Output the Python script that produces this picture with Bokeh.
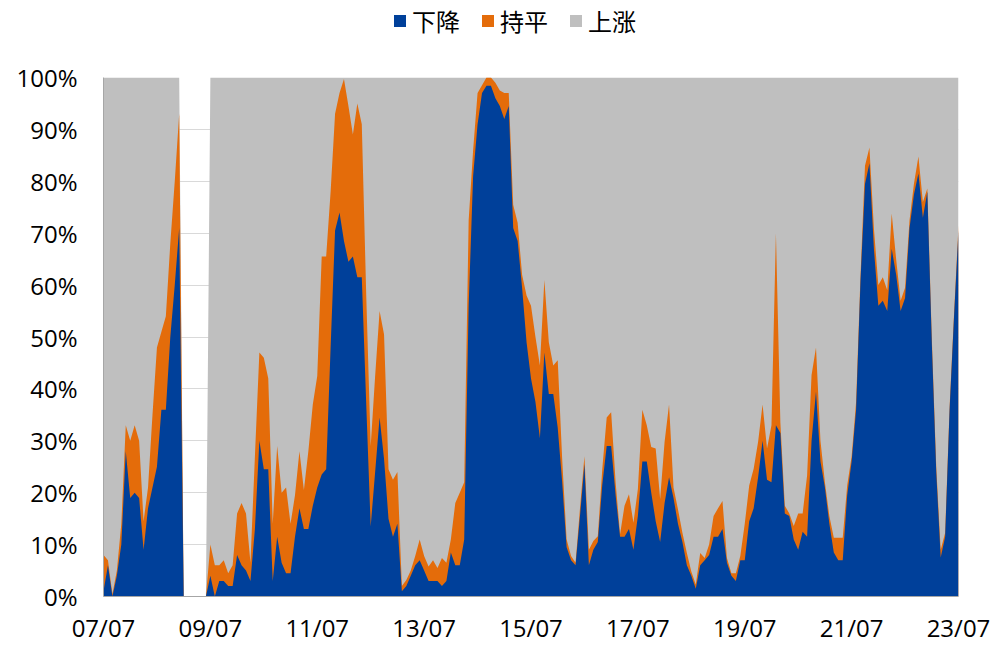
import numpy as np
from bokeh.plotting import figure
from bokeh.layouts import column
from bokeh.models import ColumnDataSource, FixedTicker, Legend, LegendItem, NumeralTickFormatter
from bokeh.embed import file_html
from bokeh.resources import INLINE

# Monthly shares (%) from 2007-07 to 2023-07; None = no data (blank months)
down_pct = [
    1, 6, 0, 4, 10, 28, 19, 20, 19, 9, 17, 21, 25, 36, 36, 50, 60, 71,
    None, None, None, None, None, None,
    4, 0, 3, 3, 2, 2, 8, 6,
    5, 3, 13, 30, 24.5, 24.5, 3, 11.5,
    6.5, 4.5, 4.5, 11.5, 17, 13, 13, 17.5,
    21, 23.5, 24.5, 48, 70.5, 74, 68.5, 64.5,
    65.5, 61.5, 61.5, 37, 13.5, 24, 34.5, 26.5,
    15, 11.5, 14, 1, 2, 4, 6, 7,
    5, 3, 3, 3, 2, 3, 8.5, 6,
    6, 11, 56, 81, 91, 97, 98.4, 98.4,
    96, 94.5, 92, 94.5, 71, 68.5, 59.5, 49,
    42, 37.5, 30.5, 47, 39, 39, 32.5, 22,
    9.5, 7, 6, 15.5, 25.5, 6, 9, 10.5,
    21.5, 29, 29, 19.5, 11.5, 11.5, 13, 9,
    15.5, 26, 26, 20, 14.5, 10.5, 18, 23,
    19, 14, 10.5, 6, 4, 1.5, 6, 7,
    8, 11.5, 11.5, 13, 6.5, 4, 3, 7,
    7, 14.5, 17, 23, 30, 22.5, 22, 33,
    31.5, 16, 15.5, 11, 9, 12.5, 11.5, 30,
    39.5, 26, 21, 14, 8.5, 7, 7, 19.5,
    26, 36, 61, 79.5, 83.5, 67, 56, 57,
    55, 67, 62, 55, 57.5, 71, 77.5, 81.5,
    73, 78, 49, 24, 7.5, 11.5, 36, 54, 70.5,
]
flat_pct = [
    7, 1, 0.5, 1, 4, 5, 11, 13, 11, 5.5, 4, 14, 23, 15, 18, 18, 20, 22,
    None, None, None, None, None, None,
    6, 6, 3, 4, 2.5, 4, 8, 12,
    11, 3.5, 14, 17, 21.5, 17.5, 11, 17.5,
    13.5, 16.5, 9.5, 8, 11, 7.5, 15, 19.5,
    21.5, 42, 41, 30, 22.5, 23, 31.2, 30,
    23.5, 33.5, 29.5, 21, 15.5, 18.5, 20.5, 24,
    9.5, 11, 10, 1, 1.2, 1, 1.8, 4,
    2.8, 2.8, 4, 2.5, 5.4, 3.5, 2.5, 12,
    14, 11, 16.5, 5, 6, 1.5, 1.6, 1.6,
    3, 3, 5, 2.5, 4.5, 3.5, 2.5, 9,
    14, 12.5, 14, 14, 10, 5.5, 13, 4.5,
    1.5, 0.8, 0.5, 1.5, 1.5, 3, 1.7, 1.1,
    3, 5.5, 6.5, 2.5, 0.5, 6, 6.7, 5.2,
    5.2, 10, 7, 8.8, 14, 8.3, 11.8, 14,
    2, 2.8, 1.8, 2.4, 0.8, 0.8, 2.4, 0.4,
    2, 4, 5.5, 5.4, 0.9, 0.5, 1.5, 0.8,
    7, 6.9, 7.6, 6.8, 7, 6, 11, 37,
    2, 1.5, 0.5, 2.6, 7, 3.5, 11.8, 12.7,
    8.5, 4, 1, 1.5, 2.8, 4.3, 4.3, 1.9,
    1, 1.5, 1, 3.5, 3, 4, 4, 4.5,
    4, 6.8, 3, 2, 2, 1.5, 2.1, 3.3,
    3, 0.6, 1, 1, 1.5, 0.8, 0.5, 0.5, 1,
]
tick_labels = ["07/07", "09/07", "11/07", "13/07", "15/07", "17/07", "19/07", "21/07", "23/07"]
tick_step_months = 24
series_names = ["下降", "持平", "上涨"]
series_colors = ["#00409A", "#E46C0A", "#BFBFBF"]

d = np.array([np.nan if v is None else v for v in down_pct], dtype=float)
f = np.array([np.nan if v is None else v for v in flat_pct], dtype=float)
has = ~np.isnan(d)
d = np.where(has, d, 0.0) / 100.0
f = np.where(has, f, 0.0) / 100.0
u = np.where(has, 1.0 - d - f, 0.0)
x = np.arange(len(d))

src = ColumnDataSource(dict(x=x, z=np.zeros(len(d)), c1=d, c2=d + f, c3=d + f + u))

W = 992
LEG_H = 60
p = figure(width=W, height=646 - LEG_H, x_range=(0, len(d) - 1), y_range=(0, 1),
           output_backend="svg", toolbar_location=None,
           min_border_left=103, min_border_right=34, min_border_bottom=48, min_border_top=17)

r_up = p.varea(x="x", y1="z", y2="c3", source=src, fill_color=series_colors[2])
r_flat = p.varea(x="x", y1="z", y2="c2", source=src, fill_color=series_colors[1])
r_down = p.varea(x="x", y1="z", y2="c1", source=src, fill_color=series_colors[0])

tick_font = "Open Sans"
p.yaxis.ticker = FixedTicker(ticks=[i / 10 for i in range(11)])
p.yaxis.formatter = NumeralTickFormatter(format="0%")
p.xaxis.ticker = FixedTicker(ticks=[i * tick_step_months for i in range(len(tick_labels))])
p.xaxis.major_label_overrides = {i * tick_step_months: lab for i, lab in enumerate(tick_labels)}
for ax in (p.xaxis, p.yaxis):
    ax.major_tick_line_color = None
    ax.minor_tick_line_color = None
    ax.axis_line_color = "#A6A6A6"
    ax.major_label_text_font = tick_font
    ax.major_label_text_font_size = "24px"
    ax.major_label_text_color = "#000000"
p.yaxis.major_label_standoff = 20
p.xaxis.major_label_standoff = 8

p.xgrid.grid_line_color = None
p.ygrid.ticker = FixedTicker(ticks=[i / 10 for i in range(11)])
p.ygrid.grid_line_color = "#D9D9D9"
p.outline_line_color = None
p.background_fill_color = "white"

# legend strip above the chart (its swatch areas lie outside its visible range)
lg = figure(width=W, height=LEG_H, x_range=(0, 1), y_range=(0, 1),
            output_backend="svg", toolbar_location=None,
            min_border_left=0, min_border_right=0, min_border_top=0, min_border_bottom=0)
lg.axis.visible = False
lg.grid.grid_line_color = None
lg.outline_line_color = None
swatch = ColumnDataSource(dict(x=[5, 6], y1=[5, 5], y2=[6, 6]))
l_down = lg.varea(x="x", y1="y1", y2="y2", source=swatch, fill_color=series_colors[0])
l_flat = lg.varea(x="x", y1="y1", y2="y2", source=swatch, fill_color=series_colors[1])
l_up = lg.varea(x="x", y1="y1", y2="y2", source=swatch, fill_color=series_colors[2])

legend = Legend(items=[LegendItem(label=series_names[0], renderers=[l_down]),
                       LegendItem(label=series_names[1], renderers=[l_flat]),
                       LegendItem(label=series_names[2], renderers=[l_up])],
                orientation="horizontal", location=(289, 22))
legend.label_text_font = "Noto Sans CJK SC"
legend.label_text_font_size = "24px"
legend.label_text_color = "#000000"
legend.glyph_width = 15
legend.glyph_height = 15
legend.label_standoff = 5
legend.spacing = 20
legend.padding = 0
legend.margin = 0
legend.border_line_color = None
legend.background_fill_alpha = 0
lg.add_layout(legend, "center")

open("out.html", "w").write(file_html(column(lg, p, spacing=0), INLINE))
